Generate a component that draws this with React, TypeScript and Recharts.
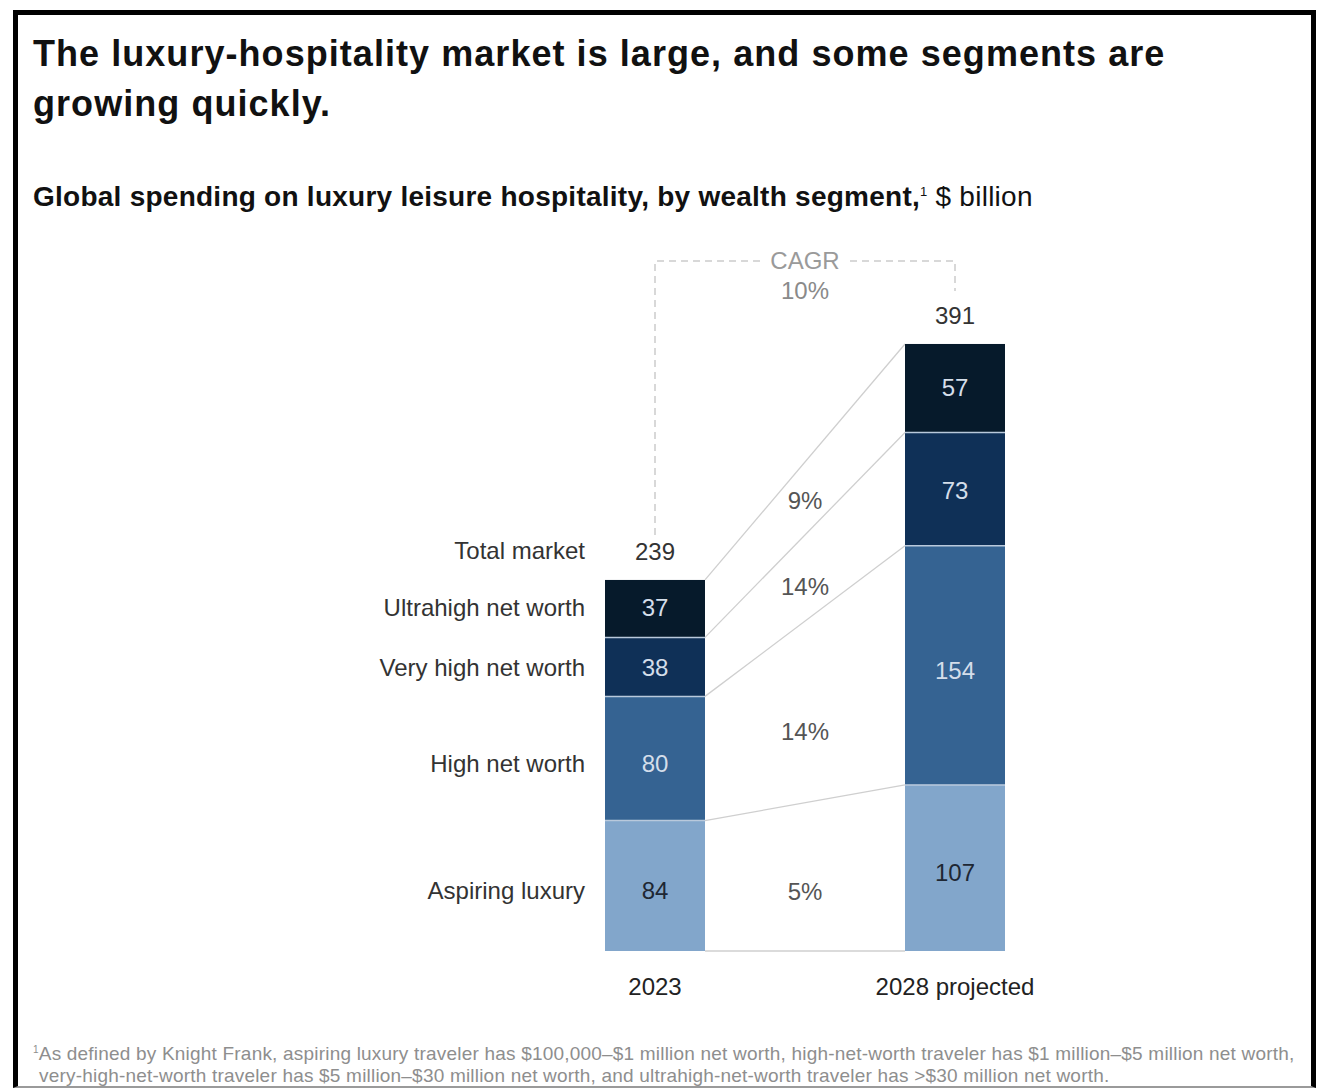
import React from "react";
import { BarChart, Bar, XAxis, YAxis } from "recharts";

// $ billion, by wealth segment
const years = ["2023", "2028 projected"];
const segments = ["Aspiring luxury", "High net worth", "Very high net worth", "Ultrahigh net worth"];
const aspiring = [84, 107];
const highNetWorth = [80, 154];
const veryHighNetWorth = [38, 73];
const ultrahighNetWorth = [37, 57];
const totals = [239, 391];
const segmentCagr = ["5%", "14%", "14%", "9%"];
const totalCagr = "10%";

const keys = ["aspiring", "high", "veryHigh", "ultra"];
const series = [aspiring, highNetWorth, veryHighNetWorth, ultrahighNetWorth];
const fills = ["#82A6CB", "#356392", "#0F3057", "#061A2B"];
const valueInk = ["#1E2733", "#D4DEEA", "#D4DEEA", "#D4DEEA"];
// vertical nudges: growth labels between the bars, and labels inside segments
const cagrNudge = [15, 20, 8, 2];
const textNudge = [5, 5, 1, -1];

const data = years.map((year, i) => ({
  year,
  aspiring: aspiring[i],
  high: highNetWorth[i],
  veryHigh: veryHighNetWorth[i],
  ultra: ultrahighNetWorth[i],
}));

// chart geometry (page pixels)
const W = 1318;
const H = 1089;
const M = { top: 330, right: 213, bottom: 98, left: 505 };
const BAND = (W - M.left - M.right) / years.length;
const FONT = "'Liberation Sans', Arial, sans-serif";
const FS = 24;

// sum of segments 0..s for year i
const cum = (i: number, s: number) =>
  series.slice(0, s + 1).reduce((a, arr) => a + arr[i], 0);

const label = (key: string, x: number, y: number, text: React.ReactNode, fill: string, anchor = "middle") => (
  <text key={key} x={x} y={y} textAnchor={anchor} dominantBaseline="central"
    fontSize={FS} fill={fill} fontFamily={FONT}>{text}</text>
);

const makeShape = (s: number) => (props: any) => {
  const { x, y, width, height, index } = props;
  const v = series[s][index];
  const ratio = height / v;
  const base = y + height + cum(index, s - 1) * ratio;
  const cx = x + width / 2;
  const last = s === series.length - 1;
  const parts: React.ReactNode[] = [];

  parts.push(<rect key="r" x={x} y={y} width={width} height={height} fill={fills[s]} />);
  if (s > 0) {
    parts.push(
      <line key="sep" x1={x} x2={x + width} y1={y + height} y2={y + height}
        stroke="#B9C9DC" strokeWidth={1.5} />
    );
  }
  parts.push(label("v", cx, y + height / 2 + textNudge[s], v, valueInk[s]));

  if (last) parts.push(label("t", cx, y - 28, totals[index], "#333"));

  if (index === 0) {
    // segment name on the left
    parts.push(label("n", x - 20, y + height / 2 + textNudge[s], segments[s], "#333", "end"));

    // connector to the same segment of the next bar
    const x2 = x + BAND;
    const top2 = base - cum(1, s) * ratio;
    const bot2 = base - cum(1, s - 1) * ratio;
    parts.push(
      <line key="c" x1={x + width} y1={y} x2={x2} y2={top2} stroke="#CFCFCF" strokeWidth={1.3} />
    );
    if (s === 0) {
      parts.push(
        <line key="b" x1={x + width} y1={base} x2={x2} y2={base} stroke="#CFCFCF" strokeWidth={1.3} />
      );
    }
    const mid = ((y + height / 2) + (top2 + bot2) / 2) / 2;
    parts.push(label("p", (x + width + x2) / 2, mid + cagrNudge[s], segmentCagr[s], "#555"));

    if (last) {
      parts.push(label("tm", x - 20, y - 29, "Total market", "#333", "end"));
      // CAGR bracket over both bars
      const cx2 = cx + BAND;
      const top2028 = base - totals[1] * ratio;
      const by = top2028 - 83;
      const mx = (cx + cx2) / 2;
      const dash = { stroke: "#CCCCCC", strokeWidth: 1.5, strokeDasharray: "7 5", fill: "none" };
      parts.push(<polyline key="bl" points={`${cx},${y - 45} ${cx},${by} ${mx - 45},${by}`} {...dash} />);
      parts.push(<polyline key="br" points={`${mx + 45},${by} ${cx2},${by} ${cx2},${top2028 - 53}`} {...dash} />);
      parts.push(label("cg", mx, by, "CAGR", "#9A9A9A"));
      parts.push(label("cv", mx, by + 30, totalCagr, "#8A8A8A"));
    }
  }
  return <g>{parts}</g>;
};

const YearTick = (props: any) => {
  const { x, y, payload } = props;
  return label("yt", x, y + 27, payload.value, "#222");
};

export default function App() {
  return (
    <div style={{ position: "absolute", left: 0, top: 0, width: W, height: H, background: "#fff", fontFamily: FONT }}>
      <div style={{
        position: "absolute", left: 13, top: 10, width: 1303, height: 1078, boxSizing: "border-box",
        borderTop: "5px solid #000", borderLeft: "5px solid #000", borderRight: "5px solid #000",
        borderBottom: "2px solid #9A9A9A",
      }} />
      <div style={{ position: "absolute", left: 33, top: 29, width: 1170, fontSize: 36, fontWeight: 700, lineHeight: "50px", letterSpacing: 1.05, color: "#111" }}>
        The luxury-hospitality market is large, and some segments are growing quickly.
      </div>
      <div style={{ position: "absolute", left: 33, top: 181, fontSize: 28, letterSpacing: 0.25, color: "#111", whiteSpace: "nowrap" }}>
        <span style={{ fontWeight: 700 }}>Global spending on luxury leisure hospitality, by wealth segment,</span>
        <sup style={{ fontSize: 13 }}>1</sup> $ billion
      </div>
      <div style={{ position: "absolute", left: 0, top: 0 }}>
        <BarChart width={W} height={H} data={data} margin={M} barSize={100}>
          <XAxis dataKey="year" axisLine={false} tickLine={false} height={40} tick={<YearTick />} interval={0} />
          <YAxis hide domain={[0, 400]} />
          {keys.map((k, s) => (
            <Bar key={k} dataKey={k} stackId="a" isAnimationActive={false} shape={makeShape(s)} />
          ))}
        </BarChart>
      </div>
      <div style={{ position: "absolute", left: 33, top: 1039, width: 1285, fontSize: 19, letterSpacing: 0.2, color: "#8E8E8E", lineHeight: "22px", whiteSpace: "nowrap" }}>
        <sup style={{ fontSize: 10 }}>1</sup>As defined by Knight Frank, aspiring luxury traveler has $100,000–$1 million net worth, high-net-worth traveler has $1 million–$5 million net worth,
        <br />
        <span style={{ paddingLeft: 6 }}>very-high-net-worth traveler has $5 million–$30 million net worth, and ultrahigh-net-worth traveler has &gt;$30 million net worth.</span>
      </div>
    </div>
  );
}
